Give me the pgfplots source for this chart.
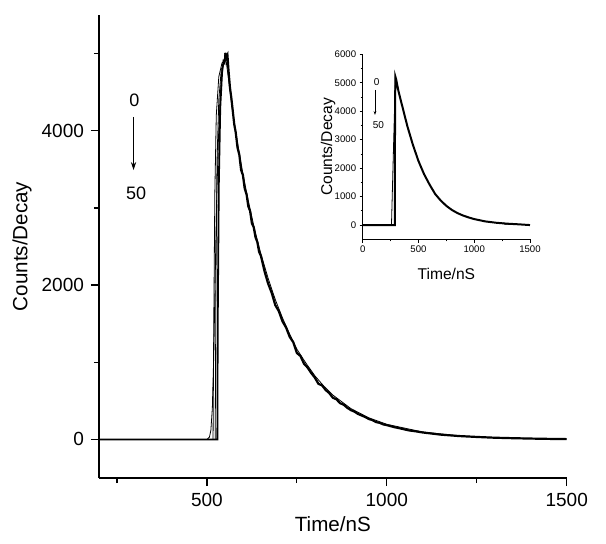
\documentclass[border=0pt]{standalone}
\usepackage{fontspec}
\setmainfont{Liberation Sans}
\usepackage{pgfplots}
\usepackage{pgfplotstable}
\pgfplotsset{compat=1.18}
\usetikzlibrary{arrows.meta}

% main plot: thin decay
\pgfplotstableread{
x y
553 4920
562 4600
570 4300
580 3990
590 3710
600 3445
610 3205
620 2985
630 2775
640 2585
650 2405
670 2090
690 1812
710 1575
730 1365
750 1170
775 990
800 825
825 690
850 575
900 400
950 280
1000 196
1100 96
1200 47
1300 23
1400 11
1500 5
}\mainA

% main plot: noisy decay
\pgfplotstableread{
x y
551 5010
554 4950
557 4980
560 4780
564 4560
568 4420
572 4250
576 4080
580 3980
585 3780
590 3690
595 3490
600 3425
605 3250
610 3180
615 3020
620 2960
625 2800
630 2750
635 2620
640 2560
645 2430
650 2380
660 2180
670 2020
680 1900
690 1740
700 1660
710 1530
720 1450
730 1330
740 1260
750 1120
760 1080
770 980
780 930
790 860
800 800
810 720
820 700
830 640
840 600
850 540
860 520
870 470
880 450
890 410
900 380
910 360
920 330
930 310
940 290
950 265
960 250
970 225
980 215
990 195
1000 185
1020 160
1040 140
1060 118
1080 105
1100 90
1150 62
1200 44
1250 32
1300 22
1350 16
1400 11
1450 7
1500 4
}\mainB

% rises
\pgfplotstableread{
x y
200 0
500 0
507 30
511 120
515 400
519 1100
523 2100
527 3100
532 3900
537 4450
543 4800
548 4920
553 4920
}\riseA
\pgfplotstableread{
x y
200 0
517 0
519 1500
522 3200
526 4200
533 4700
542 4880
553 4920
}\riseB
\pgfplotstableread{
x y
200 0
523 0
525 2000
528 3600
533 4400
540 4800
553 4920
}\riseC
\pgfplotstableread{
x y
200 0
529 0
530 1500
533 3300
537 4300
542 4750
546 4900
549 4880
551 5010
}\riseD

% inset
\pgfplotstableread{
x y
0 0
288 0
290 4000
293 5216
300 5120
320 4720
350 4250
400 3480
450 2820
500 2250
550 1790
600 1420
650 1090
700 860
750 675
800 530
850 420
900 335
950 268
1000 210
1100 128
1200 80
1300 48
1400 26
1500 0
}\insetA
\pgfplotstableread{
x y
0 0
258 0
293 5216
}\insetB
\pgfplotstableread{
x y
1262 85
1272 22
1420 22
1430 30
}\insetC

\begin{document}
\begin{tikzpicture}
\path[use as bounding box] (0,0) rectangle (303pt,271.5pt);
\begin{axis}[
  at={(49.5pt,32.5pt)}, anchor=south west,
  scale only axis, width=233.85pt, height=231.5pt,
  xmin=200, xmax=1500, ymin=-500, ymax=5500,
  axis lines=left, axis line style={-, line width=0.75pt},
  tick align=outside,
  xtick={500,1000,1500}, minor xtick={250,750,1250},
  ytick={0,2000,4000}, minor ytick={1000,3000,5000},
  major tick length=4pt, minor tick length=2.5pt,
  every tick/.style={line width=0.6pt, black},
  /pgf/number format/assume math mode=true,
  /pgf/number format/set thousands separator={},
  tick label style={font=\fontsize{9.5}{11}\selectfont},
  xlabel={Time/nS}, ylabel={Counts/Decay},
  label style={font=\fontsize{10.3}{12}\selectfont},
  xlabel style={at={(axis description cs:0.5,0)}, anchor=base, yshift=-26.8pt},
  ylabel style={at={(axis description cs:0,0.5)}, anchor=center, yshift=38.5pt},
  clip=false,
]
\addplot[black, line width=0.4pt] table {\riseA};
\addplot[black, line width=0.4pt] table {\riseB};
\addplot[black, line width=0.4pt] table {\riseC};
\addplot[black, line width=0.9pt] table {\riseD};
\addplot[black, line width=1.1pt] table {\mainB};
\addplot[black, line width=0.4pt] table {\mainA};
\node[font=\fontsize{9}{10}\selectfont] at (axis cs:298,4401) {0};
\draw[line width=0.5pt, -{Stealth[length=4pt,width=2.6pt]}] (axis cs:296,4181) -- (axis cs:296,3491);
\node[font=\fontsize{9}{10}\selectfont] at (axis cs:303,3194) {50};
\end{axis}

\begin{axis}[
  at={(181.35pt,151.85pt)}, anchor=south west,
  scale only axis, width=83.65pt, height=92.5pt,
  xmin=0, xmax=1500, ymin=-500, ymax=6000,
  axis lines=left, axis line style={-, line width=0.5pt},
  tick align=outside,
  xtick={0,500,1000,1500}, minor xtick={250,750,1250},
  ytick={0,1000,2000,3000,4000,5000,6000}, minor ytick={500,1500,2500,3500,4500,5500},
  major tick length=1.6pt, minor tick length=1pt,
  every tick/.style={line width=0.4pt, black},
  /pgf/number format/assume math mode=true,
  /pgf/number format/set thousands separator={},
  tick label style={font=\fontsize{4.8}{5.5}\selectfont, inner sep=1.5pt},
  xlabel={Time/nS}, ylabel={Counts/Decay},
  label style={font=\fontsize{7.8}{9}\selectfont},
  xlabel style={at={(axis description cs:0.5,0)}, anchor=base, yshift=-20.3pt},
  ylabel style={at={(axis description cs:0,0.5)}, anchor=center, yshift=17.3pt},
  clip=false,
]
\addplot[black, line width=0.4pt] table {\insetB};
\addplot[black, line width=1.0pt] table {\insetA};
\addplot[black, line width=0.3pt] table {\insetC};
\node[font=\fontsize{5}{6}\selectfont] at (axis cs:126,5039) {0};
\draw[line width=0.35pt, -{Stealth[length=2pt,width=1.4pt]}] (axis cs:110,4747) -- (axis cs:110,3870);
\node[font=\fontsize{5}{6}\selectfont] at (axis cs:140,3516) {50};
\end{axis}
\end{tikzpicture}
\end{document}
